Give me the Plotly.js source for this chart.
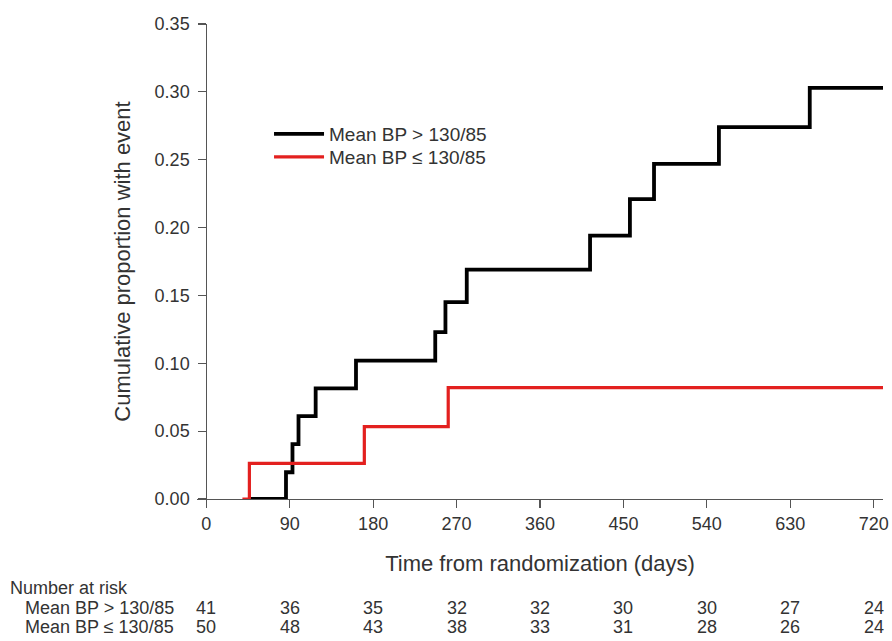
<!DOCTYPE html>
<html>
<head>
<meta charset="utf-8">
<script src="https://cdn.plot.ly/plotly-3.0.1.min.js"></script>
<style>html,body{margin:0;padding:0;background:#fff;}#chart{width:892px;height:641px;}</style>
</head>
<body>
<div id="chart"></div>
<script>
// Kaplan-Meier style cumulative incidence
const highDays = [47, 86, 93, 99.5, 118, 161.5, 247, 258, 281, 414, 457, 483, 553, 651, 730];
const highProp = [0, 0.0197, 0.0405, 0.061, 0.0815, 0.102, 0.123, 0.145, 0.169, 0.194, 0.221, 0.247, 0.274, 0.303, 0.303];
const lowDays = [39, 46.5, 170.5, 261, 730];
const lowProp = [0, 0.0263, 0.0533, 0.082, 0.082];

const seriesNames = ["Mean BP > 130/85", "Mean BP \u2264 130/85"];
const riskTimes = [0, 90, 180, 270, 360, 450, 540, 630, 720];
const riskHigh = [41, 36, 35, 32, 32, 30, 30, 27, 24];
const riskLow = [50, 48, 43, 38, 33, 31, 28, 26, 24];

const FONT = '"Liberation Sans", Arial, Helvetica, sans-serif';
const TXT = '#333333';

const traces = [
  {x: highDays, y: highProp, mode: 'lines', line: {shape: 'hv', color: '#000000', width: 3.8}, name: seriesNames[0], legend: 'legend'},
  {x: lowDays, y: lowProp, mode: 'lines', line: {shape: 'hv', color: '#e3201f', width: 3.2}, name: seriesNames[1], legend: 'legend2'}
];

const annotations = [];
const rowY = [-0.2295, -0.2695];
const rowData = [riskHigh, riskLow];
annotations.push({xref: 'paper', yref: 'paper', x: -0.2755, y: -0.187, xanchor: 'left', yanchor: 'middle',
  text: 'Number at risk', showarrow: false, font: {family: FONT, size: 18, color: TXT}});
for (let r = 0; r < 2; r++) {
  annotations.push({xref: 'paper', yref: 'paper', x: -0.2536, y: rowY[r], xanchor: 'left', yanchor: 'middle',
    text: seriesNames[r], showarrow: false, font: {family: FONT, size: 18, color: TXT}});
  for (let i = 0; i < riskTimes.length; i++) {
    annotations.push({xref: 'x', yref: 'paper', x: riskTimes[i], y: rowY[r], xanchor: 'center', yanchor: 'middle',
      text: String(rowData[r][i]), showarrow: false, font: {family: FONT, size: 18, color: TXT}});
  }
}

const legendBase = {x: 0.105, xanchor: 'left', yanchor: 'middle', bgcolor: 'rgba(0,0,0,0)',
  font: {family: FONT, size: 19, color: TXT}, itemwidth: 50};

const layout = {
  width: 892, height: 641,
  margin: {l: 197, r: 9, t: 24, b: 142},
  paper_bgcolor: '#ffffff', plot_bgcolor: '#ffffff',
  font: {family: FONT, color: TXT, size: 18},
  showlegend: true,
  legend: Object.assign({}, legendBase, {y: (499 - 134) / 475}),
  legend2: Object.assign({}, legendBase, {y: (499 - 157) / 475}),
  xaxis: {
    range: [-10, 730], tickvals: riskTimes, ticktext: riskTimes.map(String),
    showgrid: false, zeroline: false, showline: true, linecolor: '#555555', linewidth: 1.2,
    ticks: 'outside', ticklen: 8, tickcolor: '#555555', tickwidth: 1.2,
    tickfont: {family: FONT, size: 18, color: TXT},
    title: {text: 'Time from randomization (days)', font: {family: FONT, size: 22, color: TXT}, standoff: 22}
  },
  yaxis: {
    range: [0, 0.35], tickvals: [0, 0.05, 0.1, 0.15, 0.2, 0.25, 0.3, 0.35],
    ticktext: ['0.00', '0.05', '0.10', '0.15', '0.20', '0.25', '0.30', '0.35'],
    anchor: 'free', position: 10 / 740,
    showgrid: false, zeroline: false, showline: true, linecolor: '#555555', linewidth: 1.2,
    ticks: 'outside', ticklen: 8, tickcolor: '#555555', tickwidth: 1.2, ticklabelstandoff: 5,
    tickfont: {family: FONT, size: 18, color: TXT},
    title: {text: 'Cumulative proportion with event', font: {family: FONT, size: 22, color: TXT}, standoff: 16}
  },
  annotations: annotations
};

Plotly.newPlot('chart', traces, layout, {displayModeBar: false, staticPlot: true});
</script>
</body>
</html>
